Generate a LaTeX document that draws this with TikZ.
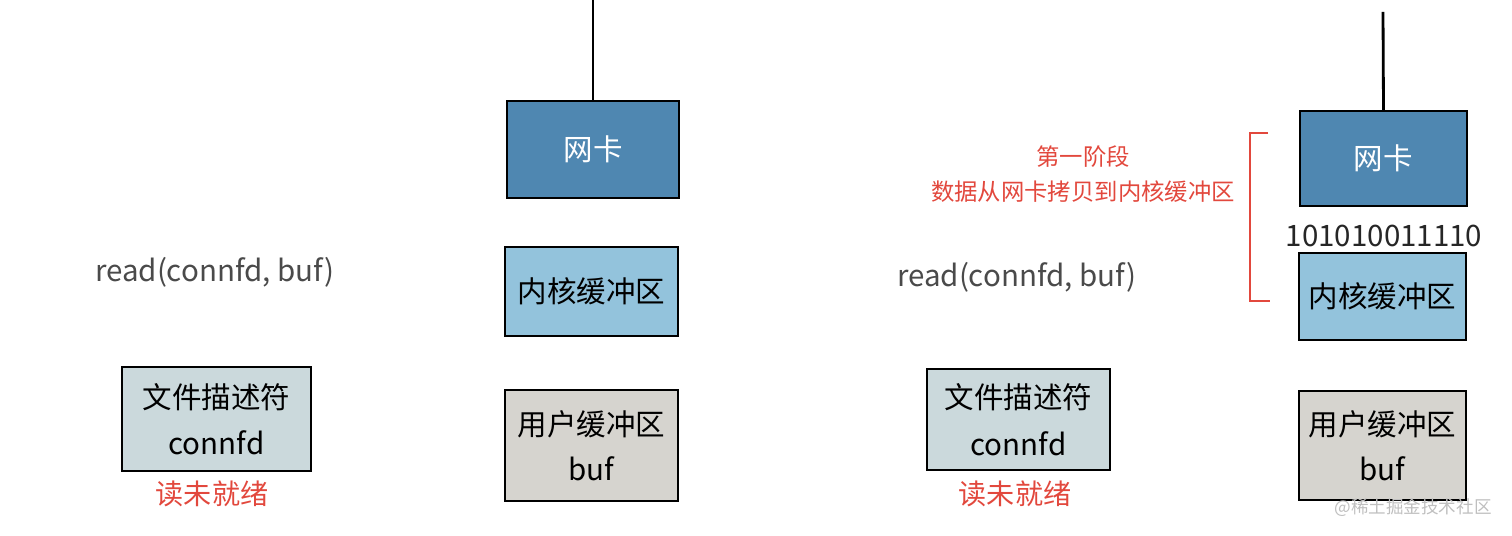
\documentclass[tikz,border=0pt]{standalone}
\usepackage{fontspec}
\setmainfont{Noto Sans CJK SC}
\usetikzlibrary{positioning}

\definecolor{nicblue}{HTML}{4F87B1}
\definecolor{kernblue}{HTML}{93C3DC}
\definecolor{usergray}{HTML}{D6D4CF}
\definecolor{fdgray}{HTML}{CBD9DC}
\definecolor{notered}{HTML}{E2483D}
\definecolor{readgray}{HTML}{4A4A4A}

\tikzset{
  box/.style={draw=black,line width=1pt,inner sep=0pt,align=center,
    font=\fontsize{16.8}{25.5}\selectfont},
  nicbox/.style={box,fill=nicblue,text=white},
  kernbox/.style={box,fill=kernblue},
  userbox/.style={box,fill=usergray},
  fdbox/.style={box,fill=fdgray,font=\fontsize{16.8}{26.5}\selectfont},
  note/.style={text=notered,font=\fontsize{16}{20}\selectfont},
  call/.style={text=readgray,font=\fontsize{16.8}{20}\selectfont},
  wire/.style={line width=1.6pt}
}

\begin{document}
\begin{tikzpicture}[x=0.02cm,y=-0.02cm]
  \useasboundingbox (0,0) rectangle (1512,536);
  % left: before read
  \node[nicbox,minimum width=3.44cm,minimum height=1.94cm] (nicL) at (593,149.5) {网卡};
  \node[kernbox,minimum width=3.46cm,minimum height=1.78cm] (kernL) at (591.5,291.5) {内核缓冲区};
  \node[userbox,minimum width=3.46cm,minimum height=2.22cm] (userL) at (591.5,445.5) {用户缓冲区\\buf};
  \node[fdbox,minimum width=3.78cm,minimum height=2.08cm] (fdL) at (216.5,419) {文件描述符\\connfd};
  \node[note] (stateL) at (212,494) {读未就绪};
  \node[call] (readL) at (215,272) {read(connfd, buf)};
  \coordinate (wireL) at (593,0);
  \draw[wire] (wireL) -- (nicL.north);

  % right: stage one
  \node[nicbox,minimum width=3.34cm,minimum height=1.90cm] (nicR) at (1383.5,158.5) {网卡};
  \node[kernbox,minimum width=3.34cm,minimum height=1.74cm] (kernR) at (1382.5,296.5) {内核缓冲区};
  \node[userbox,minimum width=3.34cm,minimum height=2.18cm] (userR) at (1382.5,445.5) {用户缓冲区\\buf};
  \node[fdbox,minimum width=3.66cm,minimum height=2.02cm] (fdR) at (1018.5,419.5) {文件描述符\\connfd};
  \node[note] (stateR) at (1015,494) {读未就绪};
  \node[call] (readR) at (1017,277) {read(connfd, buf)};
  \node[font=\fontsize{16.8}{18}\selectfont,text=black!85] (bits) at (1384,236) {101010011110};
  \coordinate (wireR) at (1383,12);
  \draw[wire] (wireR) -- (nicR.north);

  \node[note,align=center,font=\fontsize{13.3}{19.5}\selectfont] (stage) at (1083,174)
    {第一阶段\\数据从网卡拷贝到内核缓冲区};
  \draw[notered,line width=1.3pt] (1268,133) -- (1250,133) -- (1250,301) -- (1270,301);

  \node[text=black!25,font=\fontsize{10}{12}\selectfont] (mark) at (1413,508) {@稀土掘金技术社区};
\end{tikzpicture}
\end{document}
